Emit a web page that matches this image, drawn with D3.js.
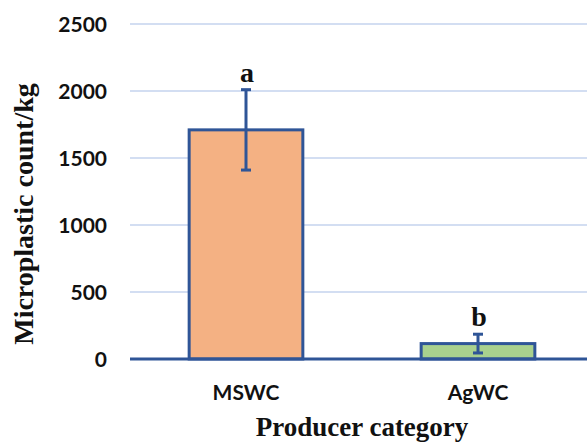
<!DOCTYPE html>
<html>
<head>
<meta charset="utf-8">
<script src="https://cdn.jsdelivr.net/npm/d3@7"></script>
<style>
  body { margin: 0; background: #fff; }
  svg { display: block; }
</style>
</head>
<body>
<div id="chart"></div>
<script>
// data
const categories = ["MSWC", "AgWC"];
const means = [1710, 115];
const errors = [300, 70];
const letters = ["a", "b"];
const yTicks = [0, 500, 1000, 1500, 2000, 2500];
const fills = ["#F4B183", "#A9D18E"];

const width = 587, height = 442;
const margin = { top: 24, left: 130, bottom: 83 };
const plotRight = 594; // plot runs slightly past the picture edge

const svg = d3.select("#chart").append("svg")
    .attr("width", width)
    .attr("height", height);

const x = d3.scaleBand()
    .domain(categories)
    .range([margin.left, plotRight])
    .paddingInner(0.51)
    .paddingOuter(0.255);

const y = d3.scaleLinear()
    .domain([0, 2500])
    .range([height - margin.bottom, margin.top]);

const blue = "#2F5597";

// gridlines
svg.append("g")
    .selectAll("line")
    .data(yTicks.filter(d => d > 0))
    .join("line")
    .attr("x1", margin.left)
    .attr("x2", plotRight)
    .attr("y1", d => y(d))
    .attr("y2", d => y(d))
    .attr("stroke", "#C5D3EE")
    .attr("stroke-width", 1.3);

// y tick labels
svg.append("g")
    .selectAll("text")
    .data(yTicks)
    .join("text")
    .attr("x", 107)
    .attr("y", d => y(d))
    .attr("dy", "0.36em")
    .attr("text-anchor", "end")
    .style("font-family", "Lato, sans-serif")
    .style("font-weight", "bold")
    .style("font-size", "21px")
    .style("fill", "#111")
    .text(d => d);

// bars
svg.append("g")
    .selectAll("rect")
    .data(categories)
    .join("rect")
    .attr("x", d => x(d))
    .attr("y", (d, i) => y(means[i]))
    .attr("width", x.bandwidth())
    .attr("height", (d, i) => y(0) - y(means[i]))
    .attr("fill", (d, i) => fills[i])
    .attr("stroke", blue)
    .attr("stroke-width", 3);

// baseline axis
svg.append("line")
    .attr("x1", margin.left)
    .attr("x2", plotRight)
    .attr("y1", y(0))
    .attr("y2", y(0))
    .attr("stroke", blue)
    .attr("stroke-width", 3);

// error bars
const eb = svg.append("g")
    .attr("stroke", blue)
    .attr("stroke-width", 3);
categories.forEach((c, i) => {
    const cx = x(c) + x.bandwidth() / 2;
    const top = y(means[i] + errors[i]);
    const bot = y(means[i] - errors[i]);
    eb.append("line").attr("x1", cx).attr("x2", cx).attr("y1", top).attr("y2", bot);
    eb.append("line").attr("x1", cx - 5).attr("x2", cx + 5).attr("y1", top).attr("y2", top);
    eb.append("line").attr("x1", cx - 5).attr("x2", cx + 5).attr("y1", bot).attr("y2", bot);
});

// significance letters
svg.append("g")
    .selectAll("text")
    .data(categories)
    .join("text")
    .attr("x", d => x(d) + x.bandwidth() / 2 + 1)
    .attr("y", (d, i) => y(means[i] + errors[i]) - 8)
    .attr("text-anchor", "middle")
    .style("font-family", "'Liberation Serif', serif")
    .style("font-weight", "bold")
    .style("font-size", "28px")
    .style("fill", "#111")
    .text((d, i) => letters[i]);

// x tick labels
svg.append("g")
    .selectAll("text")
    .data(categories)
    .join("text")
    .attr("x", d => x(d) + x.bandwidth() / 2)
    .attr("y", 400)
    .attr("text-anchor", "middle")
    .style("font-family", "Lato, sans-serif")
    .style("font-weight", "bold")
    .style("font-size", "21px")
    .style("fill", "#111")
    .text(d => d);

// axis titles
svg.append("text")
    .attr("x", 362)
    .attr("y", 436)
    .attr("text-anchor", "middle")
    .style("font-family", "'Liberation Serif', serif")
    .style("font-weight", "bold")
    .style("font-size", "27px")
    .style("fill", "#111")
    .text("Producer category");

svg.append("text")
    .attr("transform", "translate(33,214) rotate(-90)")
    .attr("text-anchor", "middle")
    .style("font-family", "'Liberation Serif', serif")
    .style("font-weight", "bold")
    .style("font-size", "28px")
    .style("fill", "#111")
    .text("Microplastic count/kg");
</script>
</body>
</html>
